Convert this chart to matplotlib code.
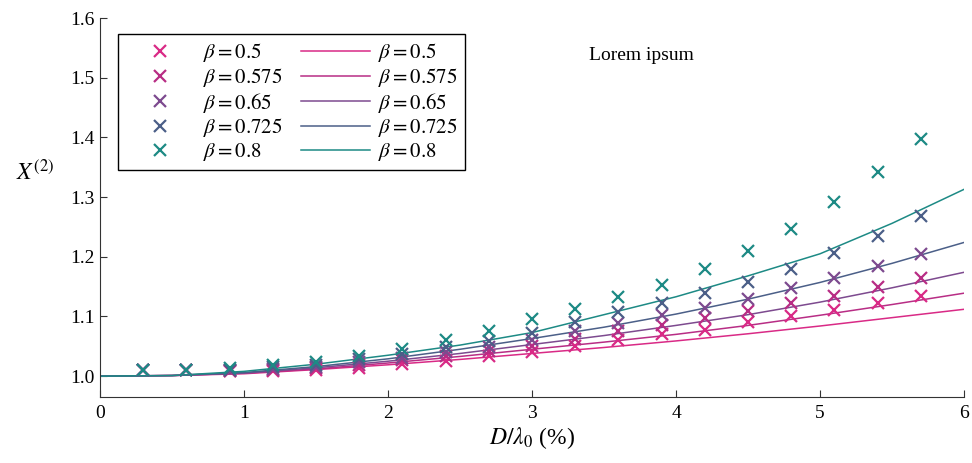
import numpy as np
import matplotlib
matplotlib.use('Agg')
import matplotlib.pyplot as plt

plt.rcParams['font.family'] = ['Liberation Serif', 'DejaVu Serif']
plt.rcParams['mathtext.fontset'] = 'stix'

# beta values and colours
betas = ['0.5', '0.575', '0.65', '0.725', '0.8']
colors = ['#d92a86', '#b82d85', '#7d4a8f', '#4b5f88', '#1d8a85']

# measured points (markers)
x_pts = [0.3, 0.6, 0.9, 1.2, 1.5, 1.8, 2.1, 2.4, 2.7, 3.0,
         3.3, 3.6, 3.9, 4.2, 4.5, 4.8, 5.1, 5.4, 5.7]
pts_05 = [1.010, 1.010, 1.008, 1.008, 1.010, 1.013, 1.020, 1.026, 1.034, 1.041,
          1.051, 1.061, 1.070, 1.078, 1.090, 1.100, 1.111, 1.123, 1.135]
pts_0575 = [1.010, 1.010, 1.009, 1.010, 1.013, 1.018, 1.027, 1.034, 1.042, 1.050,
            1.063, 1.076, 1.086, 1.098, 1.109, 1.122, 1.135, 1.150, 1.165]
pts_065 = [1.010, 1.011, 1.010, 1.012, 1.016, 1.024, 1.031, 1.041, 1.049, 1.060,
           1.075, 1.089, 1.103, 1.115, 1.129, 1.147, 1.164, 1.184, 1.204]
pts_0725 = [1.010, 1.011, 1.011, 1.015, 1.019, 1.028, 1.037, 1.048, 1.059, 1.073,
            1.091, 1.107, 1.123, 1.140, 1.158, 1.180, 1.206, 1.234, 1.268]
pts_08 = [1.010, 1.011, 1.013, 1.018, 1.023, 1.034, 1.046, 1.060, 1.076, 1.095,
          1.112, 1.132, 1.153, 1.179, 1.209, 1.247, 1.292, 1.342, 1.397]

# model curves
x_line = [0.0, 0.5, 1.0, 1.5, 2.0, 2.5, 3.0, 3.5, 4.0, 4.5, 5.0, 5.5, 6.0]
line_05 = [1.000, 1.001, 1.004, 1.011, 1.019, 1.028, 1.038, 1.048, 1.059, 1.071, 1.084, 1.098, 1.112]
line_0575 = [1.000, 1.001, 1.005, 1.012, 1.022, 1.033, 1.045, 1.057, 1.070, 1.085, 1.102, 1.120, 1.139]
line_065 = [1.000, 1.001, 1.005, 1.014, 1.025, 1.038, 1.053, 1.068, 1.085, 1.103, 1.124, 1.148, 1.174]
line_0725 = [1.000, 1.001, 1.006, 1.016, 1.029, 1.045, 1.063, 1.082, 1.104, 1.129, 1.157, 1.189, 1.224]
line_08 = [1.000, 1.001, 1.008, 1.020, 1.035, 1.052, 1.073, 1.103, 1.133, 1.168, 1.205, 1.256, 1.313]

points = [pts_05, pts_0575, pts_065, pts_0725, pts_08]
lines = [line_05, line_0575, line_065, line_0725, line_08]

fig = plt.figure(figsize=(9.72, 4.63), dpi=100)
ax = fig.add_axes([0.1029, 0.1425, 0.8889, 0.8185])

marker_handles = []
line_handles = []
for b, c, ln in zip(betas, colors, lines):
    h, = ax.plot(x_line, ln, color=c, lw=1.1, zorder=2)
    line_handles.append(h)
for b, c, p in zip(betas, colors, points):
    h, = ax.plot(x_pts, p, linestyle='none', marker='x', ms=8, mew=1.6,
                 color=c, zorder=3)
    marker_handles.append(h)

labels = [rf'$\beta = {b}$' for b in betas]
leg = ax.legend(marker_handles + line_handles, labels + labels, ncol=2,
                loc='upper left', bbox_to_anchor=(0.021, 0.958),
                fontsize=15, frameon=True, fancybox=False, framealpha=1,
                edgecolor='black', handlelength=3.3, handletextpad=0.4,
                columnspacing=0.9, labelspacing=0.08, borderpad=0.35,
                borderaxespad=0)
leg.get_frame().set_linewidth(1.0)

ax.text(0.627, 0.902, 'Lorem ipsum', transform=ax.transAxes,
        ha='center', va='center', fontsize=14)

ax.set_xlim(0, 6)
ax.set_ylim(0.965, 1.6)
ax.set_xticks([0, 1, 2, 3, 4, 5, 6])
ax.set_yticks([1.0, 1.1, 1.2, 1.3, 1.4, 1.5, 1.6])
ax.set_yticklabels(['1.0', '1.1', '1.2', '1.3', '1.4', '1.5', '1.6'])
ax.tick_params(direction='in', length=5, labelsize=14, color='#333333')
ax.tick_params(axis='y', pad=4)
ax.tick_params(axis='x', pad=6)
for s in ['top', 'right']:
    ax.spines[s].set_visible(False)
for s in ['left', 'bottom']:
    ax.spines[s].set_color('#333333')

ax.set_xlabel(r'$D/\lambda_0$ (%)', fontsize=17, labelpad=2)
ax.set_ylabel(r'$X^{(2)}$', fontsize=17, rotation=0, labelpad=18)
ax.yaxis.set_label_coords(-0.075, 0.56)

fig.savefig('out.png', dpi=100)
